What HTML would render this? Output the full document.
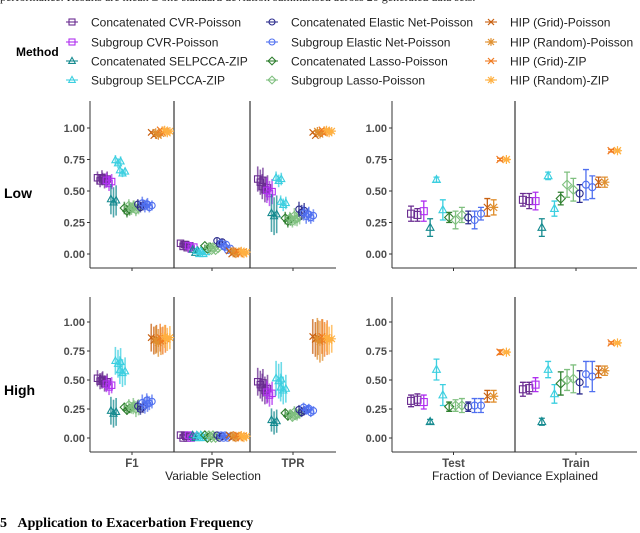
<!DOCTYPE html>
<html><head><meta charset="utf-8"><style>
body{margin:0;background:#fff;width:640px;height:533px;overflow:hidden;font-family:"Liberation Sans",sans-serif}
svg{display:block}
</style></head><body>
<svg id="chart" width="640" height="533" viewBox="0 0 640 533" xmlns="http://www.w3.org/2000/svg">
<text x="0" y="1" font-family="Liberation Serif,serif" font-size="12" fill="#222">performance. Results are mean ± one standard deviation summarised across 20 generated data sets.</text>
<g id="legend"></g>
<g id="plot"></g>
<text x="0" y="527" font-family="Liberation Serif,serif" font-size="14" font-weight="bold" fill="#000">5&#160;&#160;&#160;Application to Exacerbation Frequency</text>
</svg>
<script>
const methods=["Concatenated CVR-Poisson","Subgroup CVR-Poisson","Concatenated SELPCCA-ZIP","Subgroup SELPCCA-ZIP","Concatenated Elastic Net-Poisson","Subgroup Elastic Net-Poisson","Concatenated Lasso-Poisson","Subgroup Lasso-Poisson","HIP (Grid)-Poisson","HIP (Random)-Poisson","HIP (Grid)-ZIP","HIP (Random)-ZIP"];
const methodColors=["#6a2c91","#b030f0","#158a8f","#3ccfe0","#2c2c8c","#5070f0","#2f7f2f","#80c080","#c86010","#e09030","#f07a20","#ffb040"];
const methodShapes=["sq","sq","tri","tri","circ","circ","dia","dia","x","ast","x","ast"];
// mark -> method index (16 marks per panel)
const markMethod=[0,0,1,2,3,3,6,7,7,4,5,5,8,9,10,11];
const yTicks=[0,0.25,0.5,0.75,1];
const yTickLabels=["0.00","0.25","0.50","0.75","1.00"];
const vsCats=["F1","FPR","TPR"];
const devCats=["Test","Train"];
const rows=["Low","High"];
// variable selection means / sds
const lowF1=[.59,.59,.57,.42,.73,.65,.35,.37,.36,.38,.39,.38,.95,.95,.97,.97];
const lowF1sd=[.05,.06,.06,.12,.04,.03,.05,.05,.05,.04,.05,.04,.01,.01,.01,.01];
const lowFPR=[.07,.06,.05,.02,.01,.01,.05,.04,.04,.09,.07,.04,.01,.01,.01,.01];
const lowFPRsd=[.02,.02,.02,.01,.01,.01,.01,.02,.01,.02,.03,.02,.01,.01,.01,.01];
const lowTPR=[.58,.52,.49,.31,.59,.40,.27,.27,.29,.34,.31,.30,.95,.96,.97,.97];
const lowTPRsd=[.1,.1,.1,.15,.05,.05,.05,.05,.06,.06,.06,.05,.01,.01,.01,.01];
const highF1=[.50,.48,.45,.22,.65,.57,.25,.27,.26,.26,.29,.31,.85,.83,.85,.86];
const highF1sd=[.07,.07,.07,.12,.12,.12,.04,.05,.07,.05,.07,.06,.12,.12,.12,.1];
const highFPR=[.01,.01,.01,.01,.01,.01,.01,.01,.01,.01,.01,.01,.01,.01,.01,.01];
const highFPRsd=[.01,.01,.01,.01,.01,.01,.01,.01,.01,.01,.01,.01,.01,.01,.01,.01];
const highTPR=[.47,.42,.38,.14,.50,.42,.20,.19,.21,.23,.25,.23,.86,.84,.86,.85];
const highTPRsd=[.12,.12,.1,.1,.15,.12,.04,.04,.05,.04,.04,.04,.15,.18,.15,.12];
// deviance explained
const lowTest=[.32,.31,.34,.21,.59,.35,.29,.27,.31,.29,.27,.32,.37,.37,.75,.75];
const lowTestsd=[.06,.05,.08,.07,.02,.08,.04,.07,.06,.05,.07,.05,.07,.06,.01,.01];
const lowTrain=[.43,.42,.42,.21,.62,.36,.44,.55,.51,.48,.55,.53,.57,.57,.82,.82];
const lowTrainsd=[.05,.06,.07,.07,.03,.06,.05,.1,.09,.07,.12,.09,.04,.04,.01,.01];
const highTest=[.32,.33,.31,.14,.59,.37,.27,.28,.28,.27,.28,.28,.36,.36,.74,.74];
const highTestsd=[.05,.05,.06,.02,.09,.09,.04,.05,.06,.04,.06,.06,.05,.05,.02,.01];
const highTrain=[.42,.43,.46,.14,.59,.38,.47,.50,.51,.48,.55,.53,.57,.58,.82,.82];
const highTrainsd=[.06,.05,.06,.03,.07,.08,.1,.09,.12,.1,.11,.13,.05,.04,.01,.01];

const NS="http://www.w3.org/2000/svg";
const plot=document.getElementById('plot');
function mk(tag,attrs,parent){const e=document.createElementNS(NS,tag);for(const k in attrs)e.setAttribute(k,attrs[k]);(parent||plot).appendChild(e);return e;}
function marker(g,shape,x,y,c,s){
  let e;
  if(shape==="sq")e=mk('rect',{x:x-s,y:y-s,width:2*s,height:2*s,fill:'none',stroke:c,'stroke-width':1.1},g);
  else if(shape==="tri")e=mk('polygon',{points:`${x},${y-s*1.2} ${x-s*1.1},${y+s*.8} ${x+s*1.1},${y+s*.8}`,fill:'none',stroke:c,'stroke-width':1.1},g);
  else if(shape==="circ")e=mk('circle',{cx:x,cy:y,r:s,fill:'none',stroke:c,'stroke-width':1.1},g);
  else if(shape==="dia")e=mk('polygon',{points:`${x},${y-s*1.3} ${x+s*1.3},${y} ${x},${y+s*1.3} ${x-s*1.3},${y}`,fill:'none',stroke:c,'stroke-width':1.1},g);
  else{
    e=mk('path',{d:`M${x-s},${y-s}L${x+s},${y+s}M${x-s},${y+s}L${x+s},${y-s}`+(shape==="ast"?`M${x-s*1.3},${y}L${x+s*1.3},${y}M${x},${y-s*1.3}L${x},${y+s*1.3}`:''),stroke:c,'stroke-width':1.2,fill:'none'},g);
  }
  return e;
}
const rowGeom=[{top:101,bot:268,y0:254,k:126,label:193},{top:297,bot:452,y0:438,k:116,label:390}];
const leftPanels=[{x0:90,x1:174},{x0:174,x1:250},{x0:250,x1:336}];
const rightPanels=[{x0:392,x1:515,f0:0.155},{x0:515,x1:637,f0:0.065}];
const vsData=[[[lowF1,lowF1sd],[lowFPR,lowFPRsd],[lowTPR,lowTPRsd]],[[highF1,highF1sd],[highFPR,highFPRsd],[highTPR,highTPRsd]]];
const devData=[[[lowTest,lowTestsd],[lowTrain,lowTrainsd]],[[highTest,highTestsd],[highTrain,highTrainsd]]];
const jit=[-2.6,0,2.6];const jitY=[0.015,-0.01,0.005];

function axes(r,xa,xb,panels,cats,showCats){
  const G=rowGeom[r];
  const ys=v=>G.y0-G.k*v;
  const ax=mk('g',{});
  
  
  mk('line',{x1:xa,y1:G.top,x2:xa,y2:G.bot,stroke:'#333','stroke-width':1},ax);
  mk('line',{x1:xa,y1:G.bot,x2:xb,y2:G.bot,stroke:'#333','stroke-width':1},ax);
  yTicks.forEach((t,i)=>{
    mk('line',{x1:xa-3,y1:ys(t),x2:xa,y2:ys(t),stroke:'#333'},ax);
    const tx=mk('text',{x:xa-5,y:ys(t)+4,'text-anchor':'end','font-size':11,'font-weight':'bold',fill:'#4d4d4d'},ax);
    tx.textContent=yTickLabels[i];
    
    
  });
  panels.forEach((p,i)=>{
    if(i>0)mk('line',{x1:p.x0,y1:G.top,x2:p.x0,y2:G.bot,stroke:'#333','stroke-width':1.2},ax);
    const cx=(p.x0+p.x1)/2;
    mk('line',{x1:cx,y1:G.bot,x2:cx,y2:G.bot+3,stroke:'#333'},ax);
    if(showCats){
      const t=mk('text',{x:cx,y:G.bot+15,'text-anchor':'middle','font-size':11.5,'font-weight':'bold',fill:'#4d4d4d'},ax);
      t.textContent=cats[i];
      
      
    }
  });
  return ys;
}
rows.forEach((rn,r)=>{
  const G=rowGeom[r];
  const lt=mk('text',{x:4,y:G.label+5,'font-size':14,'font-weight':'bold',fill:'#000'});
  lt.textContent=rn;
  
  
  const ys=axes(r,90,336,leftPanels,vsCats,r===1);
  leftPanels.forEach((p,pi)=>{
    const [m,sd]=vsData[r][pi];
    const g=mk('g',{});
    
    
    m.forEach((v,i)=>{
      const mi=markMethod[i],c=methodColors[mi];
      const xc=p.x0+(p.x1-p.x0)*(0.12+0.8*i/15);
      jit.forEach((j,k)=>{
        const vv=v+jitY[k];
        mk('line',{x1:xc+j,y1:ys(vv-sd[i]),x2:xc+j,y2:ys(vv+sd[i]),stroke:c,'stroke-width':1.6,'stroke-opacity':0.75},g);
        marker(g,methodShapes[mi],xc+j,ys(vv),c,3.2);
      });
    });
  });
  const ys2=axes(r,392,637,rightPanels,devCats,r===1);
  rightPanels.forEach((p,pi)=>{
    const [m,sd]=devData[r][pi];
    const g=mk('g',{});
    
    
    m.forEach((v,i)=>{
      const mi=markMethod[i],c=methodColors[mi];
      const xc=p.x0+(p.x1-p.x0)*(p.f0+0.775*i/15);
      const a=ys2(v+sd[i]),b=ys2(v-sd[i]);
      mk('path',{d:`M${xc},${a}L${xc},${b}M${xc-3},${a}L${xc+3},${a}M${xc-3},${b}L${xc+3},${b}`,stroke:c,'stroke-width':1.3,fill:'none'},g);
      marker(g,methodShapes[mi],xc,ys2(v),c,3.5);
    });
  });
});
const t1=mk('text',{x:213,y:480,'text-anchor':'middle','font-size':12,fill:'#222'});
t1.textContent="Variable Selection";


const t2=mk('text',{x:515,y:480,'text-anchor':'middle','font-size':12,fill:'#222'});
t2.textContent="Fraction of Deviance Explained";


// legend
const lg=document.getElementById('legend');
const lt=mk('text',{x:16,y:56,'font-size':12,'font-weight':'bold',fill:'#000'},lg);
lt.textContent="Method";


const colX=[72,272,491],rowY=[22,42,61,80];
const legendOrder=[0,1,2,3,4,5,6,7,8,9,10,11];
legendOrder.forEach((mi,i)=>{
  const col=Math.floor(i/4),row=i%4;
  const x=colX[col],y=rowY[row];
  const g=mk('g',{},lg);
  
  
  mk('line',{x1:x-6,y1:y,x2:x+6,y2:y,stroke:methodColors[mi],'stroke-width':1.1},g);
  marker(g,methodShapes[mi],x,y,methodColors[mi],3);
  const t=mk('text',{x:x+19,y:y+4.5,'font-size':12,fill:'#222'},g);
  t.textContent=methods[mi];
});
</script>
</body></html>
